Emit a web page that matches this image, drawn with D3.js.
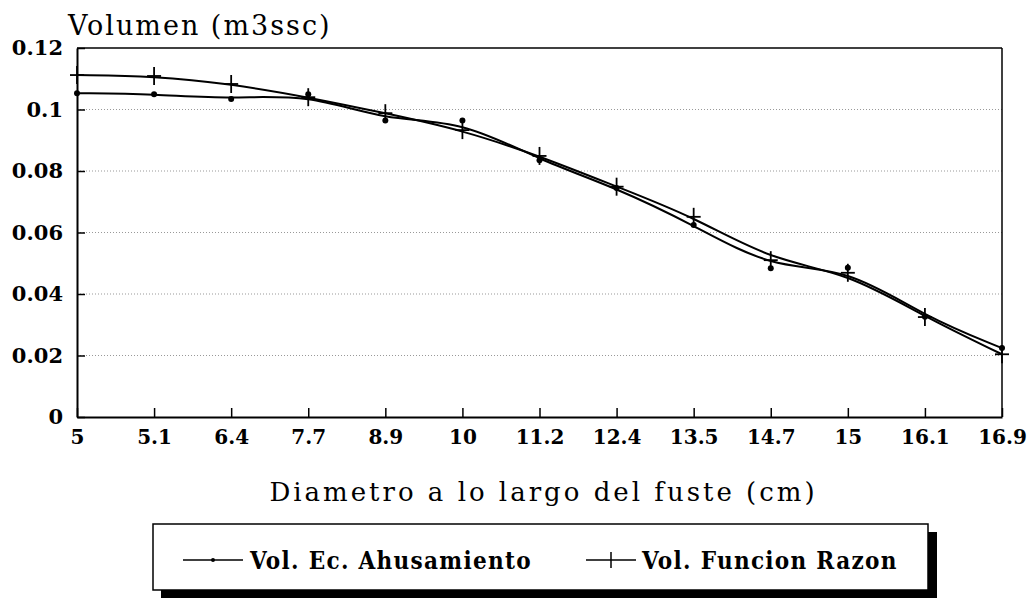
<!DOCTYPE html>
<html>
<head>
<meta charset="utf-8">
<script src="https://cdn.jsdelivr.net/npm/d3@7"></script>
<style>
  html, body { margin: 0; padding: 0; background: #fff; }
  svg { display: block; }
</style>
</head>
<body>
<svg id="chart" width="1033" height="611"></svg>
<script>
// ---- data ----
const categories = ["5", "5.1", "6.4", "7.7", "8.9", "10", "11.2", "12.4", "13.5", "14.7", "15", "16.1", "16.9"];
const volEcAhusamiento = [0.1053, 0.1050, 0.1034, 0.1050, 0.0964, 0.0964, 0.0835, 0.0745, 0.0624, 0.0484, 0.0485, 0.0326, 0.0224];
const volFuncionRazon  = [0.1112, 0.1109, 0.1083, 0.1040, 0.0988, 0.0933, 0.0849, 0.0749, 0.0651, 0.0510, 0.0469, 0.0325, 0.0204];
const yTickValues = [0, 0.02, 0.04, 0.06, 0.08, 0.1, 0.12];
const yTickLabels = ["0", "0.02", "0.04", "0.06", "0.08", "0.1", "0.12"];
const seriesNames = ["Vol. Ec. Ahusamiento", "Vol. Funcion Razon"];

// ---- layout ----
const svg = d3.select("#chart");
const pLeft = 77, pRight = 1002, pTop = 48, pBottom = 417;

const x = d3.scalePoint().domain(categories).range([pLeft, pRight]);
const y = d3.scaleLinear().domain([0, 0.12]).range([pBottom, pTop]);

const serif = "'DejaVu Serif', 'Liberation Serif', serif";

// gridlines (dotted)
svg.append("g").selectAll("line")
  .data(yTickValues.filter(v => v > 0 && v < 0.12))
  .join("line")
  .attr("x1", pLeft).attr("x2", pRight)
  .attr("y1", d => y(d)).attr("y2", d => y(d))
  .attr("stroke", "#999").attr("stroke-width", 1)
  .attr("stroke-dasharray", "1,2");

// frame top & right
svg.append("line").attr("x1", pLeft).attr("x2", pRight).attr("y1", pTop).attr("y2", pTop)
  .attr("stroke", "#000").attr("stroke-width", 1.5);
svg.append("line").attr("x1", pRight).attr("x2", pRight).attr("y1", pTop).attr("y2", pBottom)
  .attr("stroke", "#000").attr("stroke-width", 1.5);

// axes
const yAxis = d3.axisLeft(y).tickValues(yTickValues)
  .tickFormat((d, i) => yTickLabels[i]).tickSizeInner(-8).tickSizeOuter(0).tickPadding(14);
const gy = svg.append("g").attr("transform", `translate(${pLeft},0)`).call(yAxis);
gy.select(".domain").attr("stroke-width", 2);
gy.selectAll(".tick line").attr("stroke-width", 1.5);
gy.selectAll("text").attr("font-family", serif).attr("font-weight", "bold")
  .attr("font-size", 21).attr("fill", "#000");

const xAxis = d3.axisBottom(x).tickSizeInner(-9).tickSizeOuter(0).tickPadding(13);
const gx = svg.append("g").attr("transform", `translate(0,${pBottom})`).call(xAxis);
gx.select(".domain").attr("stroke-width", 2);
gx.selectAll(".tick line").attr("stroke-width", 1.5);
gx.selectAll("text").attr("font-family", serif).attr("font-weight", "bold")
  .attr("font-size", 20).attr("fill", "#000");

// titles
svg.append("text").attr("x", 68).attr("y", 35)
  .attr("font-family", serif).attr("font-size", 27).attr("letter-spacing", 2)
  .text("Volumen (m3ssc)");
svg.append("text").attr("x", (pLeft + pRight) / 2 + 4).attr("y", 501).attr("text-anchor", "middle")
  .attr("font-family", serif).attr("font-size", 26).attr("letter-spacing", 3)
  .text("Diametro a lo largo del fuste (cm)");

// lines
const line = d3.line().x((d, i) => x(categories[i])).y(d => y(d)).curve(d3.curveBasis);
[volEcAhusamiento, volFuncionRazon].forEach(s => {
  svg.append("path").datum(s).attr("d", line)
    .attr("fill", "none").attr("stroke", "#000").attr("stroke-width", 2);
});

// markers
svg.append("g").selectAll("circle").data(volEcAhusamiento).join("circle")
  .attr("cx", (d, i) => x(categories[i])).attr("cy", d => y(d)).attr("r", 3)
  .attr("fill", "#000");
const plus = svg.append("g").attr("stroke", "#000").attr("stroke-width", 1.8);
volFuncionRazon.forEach((d, i) => {
  const cx = x(categories[i]), cy = y(d);
  plus.append("line").attr("x1", cx - 7).attr("x2", cx + 7).attr("y1", cy).attr("y2", cy);
  plus.append("line").attr("x1", cx).attr("x2", cx).attr("y1", cy - 9).attr("y2", cy + 9);
});

// legend
const lg = svg.append("g");
lg.append("rect").attr("x", 161).attr("y", 532).attr("width", 776).attr("height", 66).attr("fill", "#000");
lg.append("rect").attr("x", 153).attr("y", 524).attr("width", 775).attr("height", 66)
  .attr("fill", "#fff").attr("stroke", "#000").attr("stroke-width", 1.5);
const legendFont = "'DejaVu Serif Condensed', 'DejaVu Serif', serif";
// entry 1
lg.append("line").attr("x1", 183).attr("x2", 243).attr("y1", 560).attr("y2", 560)
  .attr("stroke", "#000").attr("stroke-width", 1.5);
lg.append("circle").attr("cx", 213).attr("cy", 560).attr("r", 2).attr("fill", "#000");
lg.append("text").attr("x", 250).attr("y", 569).attr("font-family", legendFont)
  .attr("font-weight", "bold").attr("font-size", 24).attr("letter-spacing", 1.3).text(seriesNames[0]);
// entry 2
lg.append("line").attr("x1", 586).attr("x2", 636).attr("y1", 560).attr("y2", 560)
  .attr("stroke", "#000").attr("stroke-width", 1.5);
lg.append("line").attr("x1", 611).attr("x2", 611).attr("y1", 552).attr("y2", 568)
  .attr("stroke", "#000").attr("stroke-width", 1.5);
lg.append("text").attr("x", 642).attr("y", 569).attr("font-family", legendFont)
  .attr("font-weight", "bold").attr("font-size", 24).attr("letter-spacing", 1.3).text(seriesNames[1]);
</script>
</body>
</html>
